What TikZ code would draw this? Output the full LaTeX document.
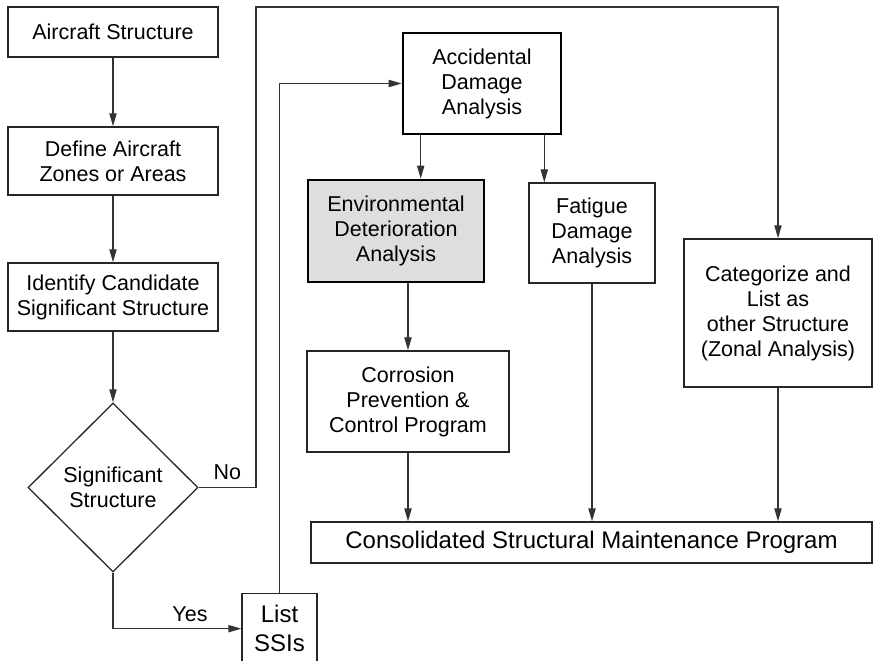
\documentclass[tikz,border=0pt]{standalone}
\usepackage{fontspec}
\setmainfont{Liberation Sans}
\usetikzlibrary{arrows.meta,shapes.geometric}

\begin{document}
\begin{tikzpicture}[font=\fontsize{10.75}{12.5}\selectfont,
    >={Triangle[length=6.5pt,width=3.6pt]},x=0.5pt,y=-0.5pt]
    \tikzset{
        stage/.style={
            draw=black!85,line width=0.7pt,inner sep=0pt,
            minimum width=105pt,minimum height=34pt,align=center
        },
        analysis/.style={
            draw=black!85,line width=0.7pt,inner sep=0pt,align=center
        },
        keyanalysis/.style={
            draw=black,line width=1.3pt,inner sep=0pt,align=center
        },
        decision/.style={
            draw=black!85,line width=0.65pt,diamond,inner sep=0pt,
            minimum width=85pt,minimum height=84.5pt,align=center
        },
        big/.style={
            draw=black!85,line width=0.65pt,inner sep=0pt,align=center,
            font=\fontsize{12}{14.5}\selectfont
        },
        flow/.style={->,draw=black!80,line width=0.65pt}
    }
    \useasboundingbox (0,0) rectangle (877,660);

    \node[stage,minimum height=25pt] (struct) at (113,32) {Aircraft Structure};
    \node[stage] (zones) at (113,161) {Define Aircraft\\Zones or Areas};
    \node[stage] (cand) at (113,297)
        {Identify Candidate\\Significant Structure};
    \node[decision] (signif) at (113,487.5) {Significant\\Structure};
    \draw[flow] (struct.south) -- (zones.north);
    \draw[flow] (zones.south) -- (cand.north);
    \draw[flow] (cand.south) -- (signif.north);

    \node[big,anchor=north,minimum width=37.5pt,minimum height=35pt] (ssis)
        at (279.5,593) {List\\SSIs};
    \draw[flow] (signif.south) |- node[pos=0.8,above]{Yes} (ssis.west);

    \node[keyanalysis,minimum width=79pt,minimum height=50.5pt] (accid)
        at (482,83.5) {Accidental\\Damage\\Analysis};
    \draw[flow] (ssis.north) |- (accid.west);

    \node[keyanalysis,fill=black!13,minimum width=88pt,minimum height=51pt]
        (envir) at (396,231) {Environmental\\Deterioration\\Analysis};
    \node[analysis,minimum width=63pt,minimum height=50pt] (fatigue)
        at (592,233) {Fatigue\\Damage\\Analysis};
    \draw[flow] ([xshift=9.5pt]accid.south west)
        -- ([xshift=9.5pt]accid.south west |- envir.north);
    \draw[flow] ([xshift=-9pt]accid.south east)
        -- ([xshift=-9pt]accid.south east |- fatigue.north);

    \node[analysis,minimum width=101pt,minimum height=50.5pt] (corros)
        at (408,401.5) {Corrosion\\Prevention \&\\Control Program};
    \draw[flow] (envir.south -| corros.north) -- (corros.north);

    \node[analysis,minimum width=94pt,minimum height=74pt] (categ)
        at (778,313) {Categorize and\\List as\\other Structure\\(Zonal Analysis)};
    \coordinate (nobend) at (256,7);
    \draw[flow] (signif.east) -| node[pos=0.25,above]{No} (nobend)
        -| (categ.north);

    \node[big,minimum width=280.5pt,minimum height=20.5pt] (consol)
        at (591.5,542.5) {Consolidated Structural Maintenance Program};
    \draw[flow] (corros.south) -- (corros.south |- consol.north);
    \draw[flow] (fatigue.south) -- (fatigue.south |- consol.north);
    \draw[flow] (categ.south) -- (categ.south |- consol.north);
\end{tikzpicture}
\end{document}
